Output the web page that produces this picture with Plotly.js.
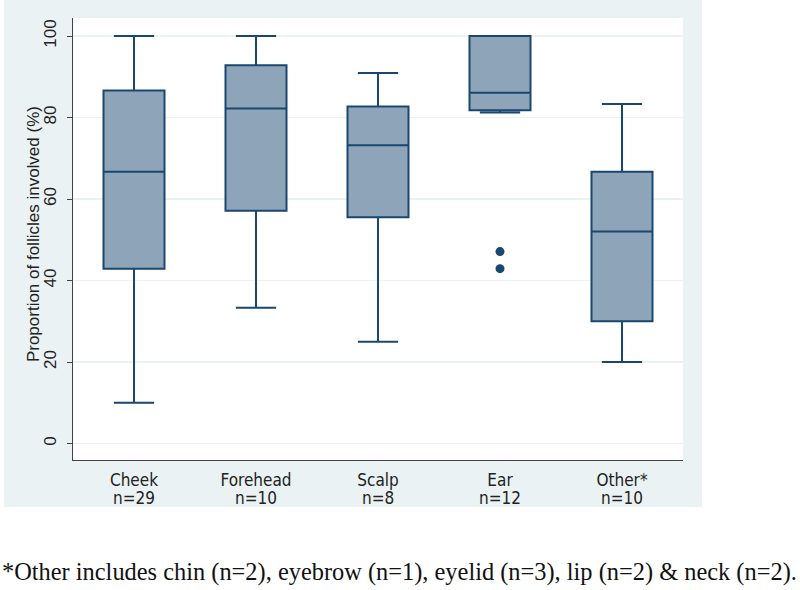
<!DOCTYPE html>
<html>
<head>
<meta charset="utf-8">
<script src="https://cdn.plot.ly/plotly-3.0.1.min.js"></script>
<style>html,body{margin:0;padding:0;background:#fff;}#chart{width:800px;height:590px;}</style>
</head>
<body>
<div id="chart"></div>
<script>
const categories = ['Cheek', 'Forehead', 'Scalp', 'Ear', 'Other*'];
const counts = ['n=29', 'n=10', 'n=8', 'n=12', 'n=10'];
const lowerFence = [10, 33.3, 25, 81.2, 20];
const q1 = [42.9, 57.1, 55.5, 81.8, 30];
const medians = [66.7, 82.2, 73.2, 86.1, 52];
const q3 = [86.6, 92.8, 82.7, 100, 66.7];
const upperFence = [100, 100, 90.9, 100, 83.3];
const outlierCats = ['Ear', 'Ear'];
const outlierVals = [47.1, 42.9];
const yTicks = [0, 20, 40, 60, 80, 100];
const yTitle = 'Proportion of follicles involved (%)';
const footnote = '*Other includes chin (n=2), eyebrow (n=1), eyelid (n=3), lip (n=2) & neck (n=2).';

const navy = '#1a476f';
const boxFill = '#8ea4b8';
const bgBlue = '#eaf2f3';
const narrowFont = 'Liberation Sans Narrow, Arial Narrow, DejaVu Sans Condensed, sans-serif';
const sansFont = 'Liberation Sans, Arial, sans-serif';

const traces = [
  {
    type: 'box',
    x: categories,
    q1: q1,
    median: medians,
    q3: q3,
    lowerfence: lowerFence,
    upperfence: upperFence,
    fillcolor: boxFill,
    line: {color: navy, width: 2},
    whiskerwidth: 0.66,
    width: 0.5,
    boxpoints: false,
    hoverinfo: 'skip',
    showlegend: false
  },
  {
    type: 'scatter',
    mode: 'markers',
    x: outlierCats,
    y: outlierVals,
    marker: {color: navy, size: 9},
    hoverinfo: 'skip',
    showlegend: false
  }
];

const nAnnotations = categories.map((c, i) => ({
  x: c, xref: 'x', y: -0.0855, yref: 'paper',
  text: counts[i], showarrow: false, xanchor: 'center', yanchor: 'middle',
  font: {family: narrowFont, size: 17, color: '#222'}
}));

const layout = {
  width: 800, height: 590,
  margin: {l: 73, r: 117, t: 18, b: 130, pad: 0},
  paper_bgcolor: '#ffffff',
  plot_bgcolor: 'rgba(0,0,0,0)',
  font: {family: sansFont, color: '#222', size: 15},
  xaxis: {
    type: 'category',
    categoryorder: 'array', categoryarray: categories,
    range: [-0.5, 4.5],
    showline: true, linecolor: '#444', linewidth: 1.2,
    ticks: '', showgrid: false, zeroline: false,
    tickfont: {family: narrowFont, size: 17, color: '#222'},
    ticklabelstandoff: 4
  },
  yaxis: {
    range: [-4.05, 104.42],
    tickvals: yTicks,
    ticktext: yTicks.map(String),
    tickangle: -90,
    ticks: 'outside', ticklen: 5, tickcolor: '#444', tickwidth: 1,
    ticklabelstandoff: 4,
    showline: true, linecolor: '#444', linewidth: 1.2,
    showgrid: true, gridcolor: bgBlue, gridwidth: 1.3,
    zeroline: false,
    tickfont: {family: sansFont, size: 17, color: '#222'}
  },
  shapes: [
    {type: 'rect', xref: 'paper', yref: 'paper', x0: -0.1131, x1: 1.0311, y0: -0.1063, y1: 1.0407,
     fillcolor: bgBlue, line: {width: 0}, layer: 'below'},
    {type: 'rect', xref: 'paper', yref: 'paper', x0: 0, x1: 1, y0: 0, y1: 1,
     fillcolor: '#ffffff', line: {width: 0}, layer: 'below'}
  ],
  annotations: nAnnotations.concat([
    {x: -0.0656, xref: 'paper', y: 0.511, yref: 'paper', xanchor: 'center', yanchor: 'middle',
     text: yTitle, textangle: -90, showarrow: false,
     font: {family: sansFont, size: 17, color: '#222'}},
    {x: -0.1197, xref: 'paper', y: -0.2534, yref: 'paper', xanchor: 'left', yanchor: 'middle',
     text: footnote, showarrow: false,
     font: {family: 'Liberation Serif, Times New Roman, serif', size: 24.4, color: '#111'}}
  ])
};

Plotly.newPlot('chart', traces, layout, {displayModeBar: false, staticPlot: true});
</script>
</body>
</html>
